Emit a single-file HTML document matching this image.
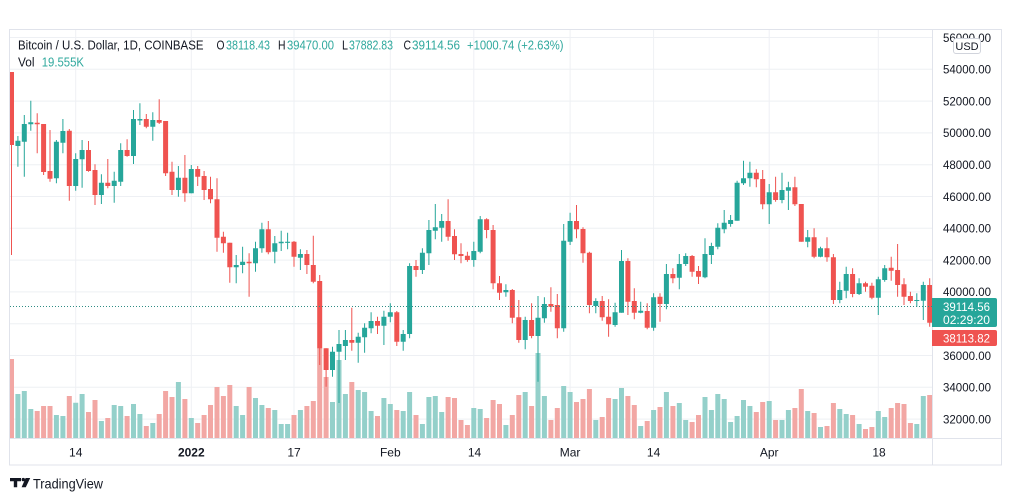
<!DOCTYPE html>
<html><head><meta charset="utf-8"><style>
html,body{margin:0;padding:0;background:#fff;}
svg{display:block;}
text{font-family:"Liberation Sans",sans-serif;}
</style></head><body>
<svg width="1012" height="501" viewBox="0 0 1012 501" xmlns="http://www.w3.org/2000/svg">
<defs><clipPath id="c"><rect x="10" y="30" width="922" height="408"/></clipPath></defs>
<rect width="1012" height="501" fill="#fff"/>
<g stroke="#eef0f4" stroke-width="1">
<path d="M10 37.5H932M10 69.3H932M10 101.1H932M10 132.9H932M10 164.7H932M10 196.5H932M10 228.3H932M10 260.1H932M10 291.9H932M10 323.7H932M10 355.5H932M10 387.3H932M10 419.1H932"/>
<path d="M75.7 30V438M191.3 30V438M294 30V438M390.3 30V438M473.8 30V438M570.1 30V438M653.6 30V438M769.2 30V438M878.3 30V438"/>
</g>
<g clip-path="url(#c)">
<path fill="#94d0ca" d="M15.4 394h5V438h-5zM21.8 391h5V438h-5zM28.3 409h5V438h-5zM53.9 415h5V438h-5zM60.4 416h5V438h-5zM73.2 402.7h5V438h-5zM79.6 394h5V438h-5zM98.9 421h5V438h-5zM111.7 405h5V438h-5zM118.2 406h5V438h-5zM131 404h5V438h-5zM137.4 414h5V438h-5zM150.3 423h5V438h-5zM175.9 382h5V438h-5zM188.8 418h5V438h-5zM233.7 406h5V438h-5zM240.1 415h5V438h-5zM253 398h5V438h-5zM259.4 405h5V438h-5zM272.3 410h5V438h-5zM278.7 424h5V438h-5zM285.1 424h5V438h-5zM297.9 410h5V438h-5zM330 402h5V438h-5zM336.5 360h5V438h-5zM342.9 394h5V438h-5zM355.7 390h5V438h-5zM362.1 392h5V438h-5zM368.6 411h5V438h-5zM381.4 398h5V438h-5zM387.8 404h5V438h-5zM400.7 411h5V438h-5zM407.1 392h5V438h-5zM419.9 424h5V438h-5zM426.4 397h5V438h-5zM432.8 396h5V438h-5zM439.2 412h5V438h-5zM471.3 408h5V438h-5zM477.7 409h5V438h-5zM503.4 425h5V438h-5zM522.7 392h5V438h-5zM535.5 353h5V438h-5zM541.9 396h5V438h-5zM561.2 386h5V438h-5zM567.6 392h5V438h-5zM593.3 420h5V438h-5zM612.6 399h5V438h-5zM619 388h5V438h-5zM638.2 426h5V438h-5zM651.1 410h5V438h-5zM663.9 392h5V438h-5zM676.8 403h5V438h-5zM683.2 420h5V438h-5zM702.5 397h5V438h-5zM708.9 410h5V438h-5zM715.3 394h5V438h-5zM721.7 399h5V438h-5zM728.1 422h5V438h-5zM734.6 416h5V438h-5zM741 400h5V438h-5zM747.4 406h5V438h-5zM766.7 401h5V438h-5zM779.5 420h5V438h-5zM785.9 410h5V438h-5zM805.2 411h5V438h-5zM818 427h5V438h-5zM837.3 409h5V438h-5zM843.7 414h5V438h-5zM856.6 424h5V438h-5zM875.8 411h5V438h-5zM882.2 417h5V438h-5zM914.3 424h5V438h-5zM920.8 396h5V438h-5z"/>
<path fill="#f2a7a4" d="M9 359h5V438h-5zM34.7 411h5V438h-5zM41.1 406h5V438h-5zM47.5 406h5V438h-5zM66.8 396h5V438h-5zM86 412h5V438h-5zM92.5 400h5V438h-5zM105.3 418h5V438h-5zM124.6 416h5V438h-5zM143.8 426h5V438h-5zM156.7 414h5V438h-5zM163.1 391h5V438h-5zM169.5 397h5V438h-5zM182.4 399h5V438h-5zM195.2 423h5V438h-5zM201.6 415h5V438h-5zM208 405h5V438h-5zM214.5 387h5V438h-5zM220.9 396h5V438h-5zM227.3 385h5V438h-5zM246.6 387h5V438h-5zM265.8 408h5V438h-5zM291.5 415h5V438h-5zM304.4 406h5V438h-5zM310.8 401h5V438h-5zM317.2 348h5V438h-5zM323.6 377h5V438h-5zM349.3 382h5V438h-5zM375 416h5V438h-5zM394.3 410h5V438h-5zM413.5 415h5V438h-5zM445.6 397h5V438h-5zM452 398h5V438h-5zM458.5 420h5V438h-5zM464.9 425h5V438h-5zM484.1 418h5V438h-5zM490.6 400h5V438h-5zM497 404h5V438h-5zM509.8 415h5V438h-5zM516.3 395h5V438h-5zM529.1 406h5V438h-5zM548.4 420h5V438h-5zM554.8 408h5V438h-5zM574 402h5V438h-5zM580.5 399h5V438h-5zM586.9 389h5V438h-5zM599.7 417h5V438h-5zM606.1 398h5V438h-5zM625.4 396h5V438h-5zM631.8 405h5V438h-5zM644.7 421h5V438h-5zM657.5 407h5V438h-5zM670.4 406h5V438h-5zM689.6 422h5V438h-5zM696 415h5V438h-5zM753.8 412h5V438h-5zM760.2 402h5V438h-5zM773.1 420h5V438h-5zM792.4 408h5V438h-5zM798.8 389h5V438h-5zM811.6 413h5V438h-5zM824.5 426h5V438h-5zM830.9 403h5V438h-5zM850.1 415h5V438h-5zM863 429h5V438h-5zM869.4 427h5V438h-5zM888.7 408h5V438h-5zM895.1 403h5V438h-5zM901.5 404h5V438h-5zM907.9 423h5V438h-5zM927.2 395h5V438h-5z"/>
<path fill="none" stroke="#26a69a" stroke-width="1" d="M17.9 136V166.7M24.3 115V176.7M30.8 100.7V130.7M56.4 140V183.3M62.9 119V153.3M75.7 153.3V190.7M82.1 140V187.7M101.4 174.3V204M114.2 171.7V202.7M120.7 143.3V186M133.5 110V164M139.9 103.3V125M152.8 112.3V140.7M178.4 166V196.7M191.3 165V193.3M236.2 255V283.3M242.6 246.7V273.3M255.5 241.7V271.7M261.9 222.7V252.7M274.8 236V263.3M281.2 230.7V251M287.6 232.7V249.3M300.4 249.3V270M332.5 346.7V376.7M339 330V403M345.4 330V360M358.2 332.7V362.7M364.6 323.3V352.7M371.1 312.3V333.3M383.9 310.7V345M390.3 303.3V322.3M403.2 330V350.7M409.6 263.3V338.3M422.4 248.3V274M428.9 220V265M435.3 204V239.3M441.7 214V241.7M473.8 241.7V266.7M480.2 216V253.3M505.9 284.3V296.7M525.2 316.7V349.3M538 296V381.7M544.4 297.3V322.7M563.7 224V331.7M570.1 212.7V245M595.8 298.3V313.3M615.1 302.7V326.7M621.5 250V312.7M640.7 301.7V313.3M653.6 293.3V330.7M666.4 264V309.3M679.3 254V289.3M685.7 253.3V266M705 238.3V278.3M711.4 242.7V264M717.8 223.3V249.3M724.2 210V233.3M730.6 215V226.7M737.1 180.7V220.7M743.5 160.7V185M749.9 161.7V186.7M769.2 184V224M782 172.7V203.3M788.4 181.7V210M807.7 230V247.3M820.5 246.7V257.3M839.8 281.7V303.3M846.2 266.7V298.3M859.1 278.3V295M878.3 276.7V315M884.7 265V281.7M916.8 293.3V306.7M923.3 281.7V320"/>
<path fill="none" stroke="#ef5350" stroke-width="1" d="M11.5 72V255M37.2 113.3V153.3M43.6 124V175M50 130V181.7M69.3 129V200.7M88.5 141V171.7M95 164.3V205M107.8 159V188.3M127.1 139.3V156.7M146.3 114V128.3M159.2 99.3V124M165.6 121V176M172 161.7V195M184.9 155V201.7M197.7 166V186M204.1 171V200M210.5 176.7V203.3M217 178.3V251.7M223.4 231.7V252.7M229.8 242.7V282.7M249.1 253.3V296.7M268.3 221V254.3M294 241V266.7M306.9 250V274M313.3 235.7V283.3M319.7 275V365M326.1 348.3V386.7M351.8 307.7V350.7M377.5 316.7V334M396.8 311V346M416 260V276.7M448.1 199.3V240.7M454.5 229.3V260M461 243.3V263.3M467.4 251.7V261.7M486.6 218.3V238.3M493.1 225V289.3M499.5 276V300M512.3 289V323.3M518.8 300V342.7M531.6 303.3V338.3M550.9 287.3V311.7M557.3 294V338.3M576.5 205V238.3M583 227.3V262.7M589.4 251.7V313.3M602.2 296V320.7M608.6 299.3V336.7M627.9 258.3V315M634.3 288.3V319.3M647.2 303.3V329.3M660 293.3V321.7M672.9 268.3V283.3M692.1 255V276.7M698.5 266V284M756.3 169.3V187.3M762.7 170V209.3M775.6 176.7V201.7M794.9 176.7V206M801.3 204V241.7M814.1 228.3V258.3M827 237.3V261.7M833.4 254V304M852.6 268.3V297.3M865.5 281.7V291.7M871.9 282.7V299.3M891.2 256.7V280.7M897.6 244V296.7M904 278.3V305M910.4 291.7V303.3M929.7 278.3V326.7"/>
<path fill="#26a69a" d="M15.4 140.7h5V146h-5zM21.8 124h5V141.7h-5zM28.3 122.3h5V124.3h-5zM53.9 141.7h5V178.3h-5zM60.4 131h5V142.7h-5zM73.2 159h5V186h-5zM79.6 150h5V159.3h-5zM98.9 182.7h5V195h-5zM111.7 180.7h5V186h-5zM118.2 150h5V181.7h-5zM131 119h5V156h-5zM137.4 119h5V120.5h-5zM150.3 120h5V126.7h-5zM175.9 177.7h5V190h-5zM188.8 169h5V193.3h-5zM233.7 265h5V267.3h-5zM240.1 261.7h5V265h-5zM253 248.3h5V263.3h-5zM259.4 229.3h5V248.3h-5zM272.3 243.3h5V251.7h-5zM278.7 241.7h5V243.3h-5zM285.1 241.7h5V242.9h-5zM297.9 254h5V257.7h-5zM330 351.7h5V370h-5zM336.5 344h5V351.7h-5zM342.9 340h5V346h-5zM355.7 336.7h5V342.7h-5zM362.1 327.7h5V337.3h-5zM368.6 321h5V328.3h-5zM381.4 316.7h5V325.7h-5zM387.8 312.3h5V316.7h-5zM400.7 334h5V341.7h-5zM407.1 266h5V334h-5zM419.9 252.7h5V270h-5zM426.4 230h5V253.3h-5zM432.8 227.3h5V230.7h-5zM439.2 221h5V227.7h-5zM471.3 251h5V260h-5zM477.7 219.3h5V251.7h-5zM503.4 290h5V292.3h-5zM522.7 320h5V340h-5zM535.5 317.7h5V336h-5zM541.9 304h5V318.3h-5zM561.2 240.7h5V328.3h-5zM567.6 221h5V241.7h-5zM593.3 301h5V306h-5zM612.6 312.3h5V325h-5zM619 261h5V312.7h-5zM638.2 310.7h5V312.7h-5zM651.1 297.3h5V327.7h-5zM663.9 274h5V304h-5zM676.8 264h5V277.7h-5zM683.2 256h5V264h-5zM702.5 254h5V277.3h-5zM708.9 246h5V255h-5zM715.3 227.7h5V246.7h-5zM721.7 222.7h5V229.3h-5zM728.1 220h5V224h-5zM734.6 182.7h5V220.7h-5zM741 178.3h5V183.3h-5zM747.4 172.7h5V178.3h-5zM766.7 192.3h5V204.3h-5zM779.5 190h5V200h-5zM785.9 187.3h5V190.7h-5zM805.2 237.3h5V241.7h-5zM818 248.3h5V256.7h-5zM837.3 290h5V300h-5zM843.7 274h5V290.7h-5zM856.6 283.3h5V294h-5zM875.8 279.3h5V297.7h-5zM882.2 268.3h5V280h-5zM914.3 300h5V301h-5zM920.8 285h5V300.7h-5z"/>
<path fill="#ef5350" d="M9 72h5V145h-5zM34.7 122.7h5V124.3h-5zM41.1 124h5V172h-5zM47.5 171h5V178.7h-5zM66.8 130.7h5V186h-5zM86 150h5V171h-5zM92.5 170h5V195h-5zM105.3 182.7h5V186h-5zM124.6 150h5V156h-5zM143.8 119h5V126.7h-5zM156.7 120h5V122.7h-5zM163.1 121h5V173.3h-5zM169.5 171.7h5V190h-5zM182.4 177.7h5V193.3h-5zM195.2 169h5V176.7h-5zM201.6 176h5V190h-5zM208 189h5V199.3h-5zM214.5 199.3h5V237.7h-5zM220.9 236.7h5V243.3h-5zM227.3 242.7h5V267.3h-5zM246.6 261.7h5V263.3h-5zM265.8 229.3h5V252.3h-5zM291.5 241.7h5V256.7h-5zM304.4 254h5V265h-5zM310.8 265h5V281.7h-5zM317.2 281h5V348.3h-5zM323.6 348.3h5V370h-5zM349.3 340h5V342.7h-5zM375 321h5V325.7h-5zM394.3 312.3h5V341.7h-5zM413.5 266h5V270h-5zM445.6 221h5V236.7h-5zM452 236h5V254.3h-5zM458.5 254h5V256h-5zM464.9 255.7h5V260h-5zM484.1 219.3h5V230h-5zM490.6 230h5V283.3h-5zM497 283.3h5V292.7h-5zM509.8 290h5V317.7h-5zM516.3 317.3h5V340h-5zM529.1 320h5V336h-5zM548.4 304h5V306.7h-5zM554.8 305h5V328.3h-5zM574 221h5V229.3h-5zM580.5 229h5V253.3h-5zM586.9 252.7h5V305h-5zM599.7 301h5V317.3h-5zM606.1 316.7h5V324.3h-5zM625.4 261h5V301.7h-5zM631.8 301h5V312.7h-5zM644.7 311h5V327.7h-5zM657.5 296.7h5V304h-5zM670.4 274h5V278.3h-5zM689.6 256h5V271.7h-5zM696 271h5V276.7h-5zM753.8 172.7h5V179.3h-5zM760.2 179h5V204.3h-5zM773.1 192.3h5V200h-5zM792.4 187.3h5V204.3h-5zM798.8 204h5V241.7h-5zM811.6 237.3h5V256.7h-5zM824.5 248.3h5V257.3h-5zM830.9 257.3h5V300h-5zM850.1 274h5V294h-5zM863 283.3h5V286.7h-5zM869.4 285.7h5V297.7h-5zM888.7 267.7h5V270.7h-5zM895.1 270h5V285h-5zM901.5 284.3h5V296.7h-5zM907.9 296h5V301h-5zM927.2 285h5V322.7h-5z"/>
<path d="M10 306.5H932" stroke="#2f8c84" stroke-width="1" stroke-dasharray="1 2"/>
</g>
<!-- frame -->
<rect x="9.5" y="29.5" width="992" height="435.5" fill="none" stroke="#e0e3eb"/>
<path d="M932.5 29.5V465M9.5 438.5H1001.5" stroke="#e0e3eb" stroke-width="1"/>
<!-- legend -->
<text x="18" y="49.3" font-size="13" fill="#131722" textLength="185.5" lengthAdjust="spacingAndGlyphs">Bitcoin / U.S. Dollar, 1D, COINBASE</text>
<g font-size="13">
<text x="216.5" y="49.3" fill="#131722" textLength="8" lengthAdjust="spacingAndGlyphs">O</text><text x="226" y="49.3" fill="#2fa89d" textLength="44" lengthAdjust="spacingAndGlyphs">38118.43</text>
<text x="278" y="49.3" fill="#131722" textLength="7.5" lengthAdjust="spacingAndGlyphs">H</text><text x="287" y="49.3" fill="#2fa89d" textLength="47" lengthAdjust="spacingAndGlyphs">39470.00</text>
<text x="342" y="49.3" fill="#131722" textLength="6" lengthAdjust="spacingAndGlyphs">L</text><text x="349" y="49.3" fill="#2fa89d" textLength="44" lengthAdjust="spacingAndGlyphs">37882.83</text>
<text x="403.5" y="49.3" fill="#131722" textLength="7.5" lengthAdjust="spacingAndGlyphs">C</text><text x="412" y="49.3" fill="#2fa89d" textLength="48" lengthAdjust="spacingAndGlyphs">39114.56</text>
<text x="467" y="49.3" fill="#2fa89d" textLength="96.5" lengthAdjust="spacingAndGlyphs">+1000.74 (+2.63%)</text>
<text x="18" y="66.5" fill="#131722" textLength="16.5" lengthAdjust="spacingAndGlyphs">Vol</text>
<text x="41.7" y="66.5" fill="#2fa89d" textLength="42.3" lengthAdjust="spacingAndGlyphs">19.555K</text>
</g>
<!-- price axis -->
<g font-size="12" fill="#131722">
<text x="943" y="41.8" textLength="48" lengthAdjust="spacingAndGlyphs">56000.00</text>
<text x="943" y="73.6" textLength="48" lengthAdjust="spacingAndGlyphs">54000.00</text>
<text x="943" y="105.4" textLength="48" lengthAdjust="spacingAndGlyphs">52000.00</text>
<text x="943" y="137.2" textLength="48" lengthAdjust="spacingAndGlyphs">50000.00</text>
<text x="943" y="169" textLength="48" lengthAdjust="spacingAndGlyphs">48000.00</text>
<text x="943" y="200.8" textLength="48" lengthAdjust="spacingAndGlyphs">46000.00</text>
<text x="943" y="232.6" textLength="48" lengthAdjust="spacingAndGlyphs">44000.00</text>
<text x="943" y="264.4" textLength="48" lengthAdjust="spacingAndGlyphs">42000.00</text>
<text x="943" y="296.2" textLength="48" lengthAdjust="spacingAndGlyphs">40000.00</text>
<text x="943" y="359.8" textLength="48" lengthAdjust="spacingAndGlyphs">36000.00</text>
<text x="943" y="391.6" textLength="48" lengthAdjust="spacingAndGlyphs">34000.00</text>
<text x="943" y="423.4" textLength="48" lengthAdjust="spacingAndGlyphs">32000.00</text>
</g>
<rect x="953.5" y="38.5" width="27" height="15" rx="2.5" fill="#fff" stroke="#d1d4dc"/>
<text x="967" y="50" font-size="11" fill="#131722" text-anchor="middle">USD</text>
<path d="M932 298h63a2 2 0 0 1 2 2v25a2 2 0 0 1-2 2h-63z" fill="#26a69a"/>
<text x="943" y="311" font-size="12" fill="#fff" textLength="47" lengthAdjust="spacingAndGlyphs">39114.56</text>
<text x="943" y="324" font-size="12" fill="#fff" textLength="47" lengthAdjust="spacingAndGlyphs">02:29:20</text>
<path d="M932 330h63a2 2 0 0 1 2 2v12a2 2 0 0 1-2 2h-63z" fill="#ef5350"/>
<text x="943" y="342.5" font-size="12" fill="#fff" textLength="47" lengthAdjust="spacingAndGlyphs">38113.82</text>
<!-- time axis -->
<g font-size="12" fill="#131722" text-anchor="middle">
<text x="75.7" y="456.5">14</text>
<text x="191.3" y="456.5" font-weight="bold">2022</text>
<text x="294" y="456.5">17</text>
<text x="390.3" y="456.5">Feb</text>
<text x="474.5" y="456.5">14</text>
<text x="570.1" y="456.5">Mar</text>
<text x="653.6" y="456.5">14</text>
<text x="769.2" y="456.5">Apr</text>
<text x="879" y="456.5">18</text>
</g>
<!-- logo -->
<path d="M10 478h11v3.2h-3.8v6h-3.4v-6H10z" fill="#131722"/>
<circle cx="23.3" cy="479.6" r="1.7" fill="#131722"/>
<path d="M25.6 478h4.6l-4.4 9.2h-4.2z" fill="#131722"/>
<text x="33" y="488.5" font-size="14" fill="#131722" textLength="70" lengthAdjust="spacingAndGlyphs">TradingView</text>
</svg>
</body></html>
